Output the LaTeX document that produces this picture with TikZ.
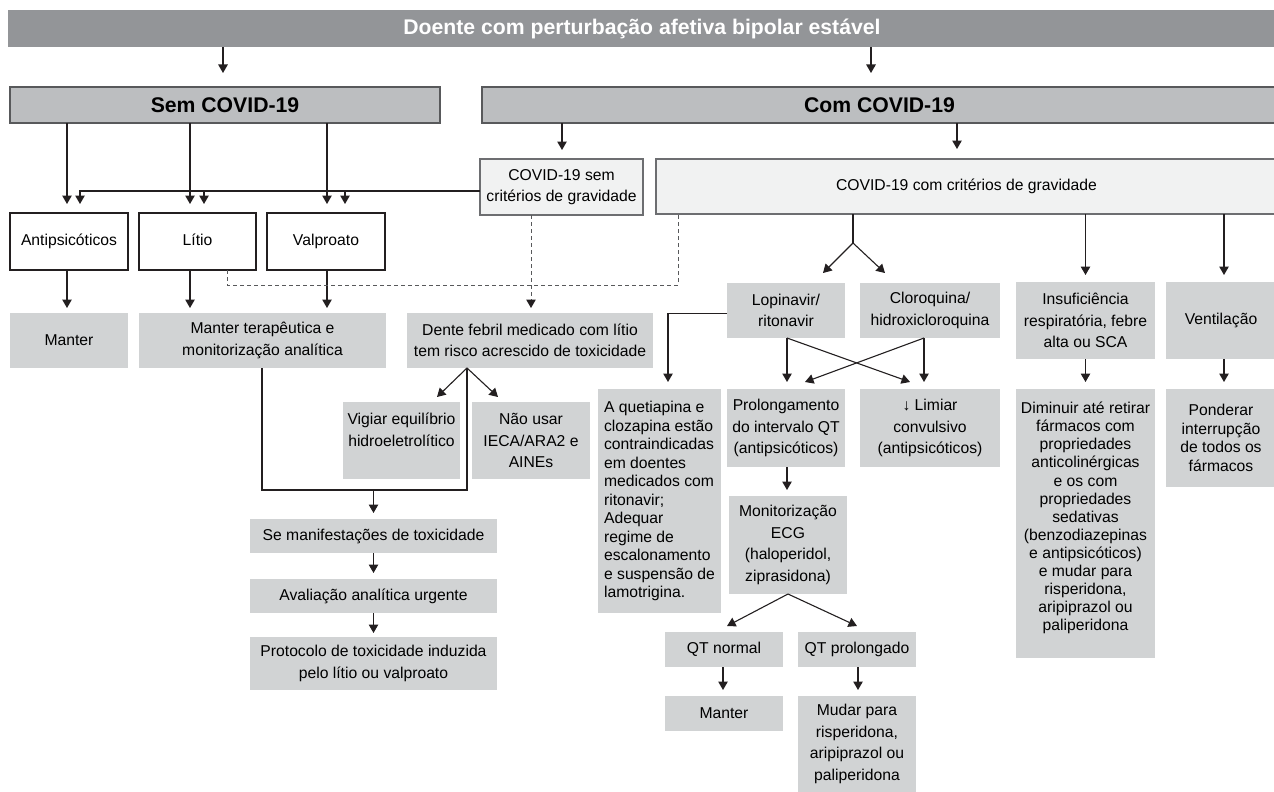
\documentclass[tikz,border=0pt]{standalone}
\usepackage{fontspec}
\setmainfont{Liberation Sans}
\usetikzlibrary{arrows.meta,calc}
\definecolor{topfill}{HTML}{939598}
\definecolor{hdrfill}{HTML}{BCBEC0}
\definecolor{hdrdraw}{HTML}{58595B}
\definecolor{critfill}{HTML}{F1F2F2}
\definecolor{critdraw}{HTML}{6D6E71}
\definecolor{greyfill}{HTML}{D1D3D4}
\definecolor{linec}{HTML}{231F20}
\definecolor{dashc}{HTML}{58595B}
\newcommand{\mybx}[7]{%
  \pgfmathsetmacro\bw{#4-#3}\pgfmathsetmacro\bh{#6-#5}%
  \pgfmathsetmacro\bcx{(#3+#4)/2}\pgfmathsetmacro\bcy{(#5+#6)/2}%
  \node[#1,minimum width=\bw pt,minimum height=\bh pt] (#2) at (\bcx,\bcy) {#7};}
\begin{document}
\begin{tikzpicture}[x=1pt,y=-1pt,
  base/.style={inner sep=0pt,outer sep=0pt,align=center,text=black,
    font=\fontsize{15.7}{21.5}\selectfont},
  grey/.style={base,fill=greyfill},
  white/.style={base,fill=white,draw=linec,line width=1.1pt,text height=11.3pt,text depth=3.3pt},
  crit/.style={base,fill=critfill,draw=critdraw,line width=1.1pt},
  hdr/.style={base,fill=hdrfill,draw=hdrdraw,line width=1.1pt,
    font=\fontsize{21.2}{25}\selectfont\bfseries},
  topbar/.style={base,fill=topfill,text=white,
    font=\fontsize{21.2}{25}\selectfont\bfseries},
  arr/.style={draw=linec,line width=1.1pt,-{Triangle[width=9.5pt,length=8.5pt,color=linec]},shorten >=6pt},
  ln/.style={draw=linec,line width=1.1pt},
  dsh/.style={draw=dashc,line width=1pt,dash pattern=on 4pt off 3pt},
]
\useasboundingbox[fill=white] (0,0) rectangle (1274,792);

% boxes
\mybx{topbar}{top}{8}{1276}{10}{47}{Doente com perturbação afetiva bipolar estável}
\mybx{hdr}{sem}{10}{440}{87}{123}{Sem COVID-19}
\mybx{hdr}{com}{482}{1277}{87}{123}{Com COVID-19}
\mybx{crit}{semcrit}{480}{643}{159}{215}{COVID-19 sem\\critérios de gravidade}
\mybx{crit}{comcrit}{656}{1277}{159}{214}{COVID-19 com critérios de gravidade}
\mybx{white}{antip}{10}{128}{213}{270}{Antipsicóticos}
\mybx{white}{litio}{139}{256}{213}{270}{Lítio}
\mybx{white}{valp}{267}{385}{213}{270}{Valproato}
\mybx{grey}{manterA}{10}{128}{313}{368}{Manter}
\mybx{grey}{mterap}{139}{386}{313}{368}{Manter terapêutica e\\monitorização analítica}
\mybx{grey}{dente}{407}{653}{313}{368}{Dente febril medicado com lítio\\tem risco acrescido de toxicidade}
\mybx{grey}{vigiar}{343}{460}{402}{479}{Vigiar equilíbrio\\hidroeletrolítico\\\mbox{}}
\mybx{grey}{naousar}{472}{590}{402}{479}{Não usar\\IECA/ARA2 e\\AINEs}
\mybx{grey}{semanif}{250}{497}{519}{553}{Se manifestações de toxicidade}
\mybx{grey}{aval}{250}{497}{579}{613}{Avaliação analítica urgente}
\mybx{grey}{protoc}{250}{497}{637}{690}{Protocolo de toxicidade induzida\\pelo lítio ou valproato}
\mybx{grey}{lopi}{727}{845}{283}{338}{Lopinavir/\\ritonavir}
\mybx{grey}{cloro}{860}{1000}{283}{338}{Cloroquina/\\hidroxicloroquina}
\mybx{grey}{insuf}{1016}{1155}{282}{359}{Insuficiência\\respiratória, febre\\alta ou SCA}
\mybx{grey}{venti}{1166}{1276}{282}{359}{Ventilação}
\mybx{grey,align=left,font=\fontsize{15.7}{18.5}\selectfont}{quet}{598}{721}{389}{613}{A quetiapina e\\clozapina estão\\contraindicadas\\em doentes\\medicados com\\ritonavir;\\Adequar\\regime de\\escalonamento\\e suspensão de\\lamotrigina.}
\mybx{grey}{prolong}{727}{845}{389}{467}{Prolongamento\\do intervalo QT\\(antipsicóticos)}
\mybx{grey}{limiar}{860}{1000}{389}{467}{↓ Limiar\\convulsivo\\(antipsicóticos)}
\mybx{grey,font=\fontsize{15.7}{18.1}\selectfont}{dimin}{1016}{1155}{389}{658}{Diminuir até retirar\\fármacos com\\propriedades\\anticolinérgicas\\e os com\\propriedades\\sedativas\\(benzodiazepinas\\e antipsicóticos)\\e mudar para\\risperidona,\\aripiprazol ou\\paliperidona\\[-4pt]\mbox{}}
\mybx{grey,font=\fontsize{15.7}{18.5}\selectfont}{ponder}{1166}{1276}{389}{487}{Ponderar\\interrupção\\de todos os\\fármacos}
\mybx{grey}{monit}{729}{847}{496}{594}{Monitorização\\ECG\\(haloperidol,\\ziprasidona)}
\mybx{grey}{qtn}{665}{783}{632}{667}{QT normal}
\mybx{grey}{qtp}{798}{916}{632}{667}{QT prolongado}
\mybx{grey}{manterB}{665}{783}{696}{731}{Manter}
\mybx{grey}{mudar}{798}{916}{696}{792}{Mudar para\\risperidona,\\aripiprazol ou\\paliperidona}

% connectors
\draw[arr,shorten >=14pt] (top.south -| 223,0) -- (sem.north -| 223,0);
\draw[arr,shorten >=14pt] (top.south -| 871,0) -- (com.north -| 871,0);
\draw[arr,shorten >=9pt] (sem.south -| 67,0) -- (antip.north -| 67,0);
\draw[arr,shorten >=9pt] (sem.south -| 190,0) -- (litio.north -| 190,0);
\draw[arr,shorten >=9pt] (sem.south -| 327,0) -- (valp.north -| 327,0);
\coordinate (hl) at ([yshift=-4pt]semcrit.west);
\draw[arr,shorten >=9pt] (hl) -| (antip.north -| 80,0);
\draw[arr,shorten >=9pt] (hl -| 204,0) -- (litio.north -| 204,0);
\draw[arr,shorten >=9pt] (hl -| 345,0) -- (valp.north -| 345,0);
\draw[arr,shorten >=9pt] (com.south -| 562,0) -- (semcrit.north -| 562,0);
\draw[arr,shorten >=10pt] (com.south -| 957,0) -- (comcrit.north -| 957,0);
\draw[arr,shorten >=5pt] (antip.south -| 67,0) -- (manterA.north -| 67,0);
\draw[arr,shorten >=5pt] (litio.south -| 190,0) -- (mterap.north -| 190,0);
\draw[arr,shorten >=5pt] (valp.south -| 327,0) -- (mterap.north -| 327,0);
% dashed
\draw[dsh] (litio.south -| 227,0) |- (678,285) -- (comcrit.south -| 678,0);
\draw[arr,dsh,shorten >=5pt] (semcrit.south -| 531,0) -- (dente.north -| 531,0);
% dente fork and bracket
\coordinate (dA) at (dente.south -| 467,0);
\draw[arr,shorten >=0pt] (dA) -- ($(vigiar.north east)+(-23,-5)$);
\draw[arr,shorten >=0pt] (dA) -- ($(naousar.north west)+(26,-5)$);
\draw[ln] (mterap.south -| 262,0) |- (dA |- 0,490) -- (dA);
\draw[arr] (semanif.north |- 0,490) -- (semanif.north);
\draw[arr] (semanif.south) -- (aval.north);
\draw[arr,shorten >=4pt] (aval.south) -- (protoc.north);
% com criterios fork
\coordinate (cA) at (853,243);
\draw[ln] (comcrit.south -| cA) -- (cA);
\draw[arr,shorten >=0pt] (cA) -- ($(lopi.north east)+(-22,-10)$);
\draw[arr,shorten >=0pt] (cA) -- ($(cloro.north west)+(25,-10)$);
\draw[arr,shorten >=7pt] (comcrit.south -| insuf.north) -- (insuf.north);
\draw[arr,shorten >=7pt] (comcrit.south -| 1224,0) -- (venti.north -| 1224,0);
% lopinavir / cloroquina
\draw[arr,shorten >=7pt] ([yshift=-3pt]lopi.west) -| (quet.north -| 668,0);
\draw[arr,shorten >=7pt] (lopi.south -| 787,0) -- (prolong.north -| 787,0);
\draw[arr,shorten >=0pt] (lopi.south -| 787,0) -- ($(limiar.north west)+(50,-7)$);
\draw[arr,shorten >=7pt] (cloro.south -| 924,0) -- (limiar.north -| 924,0);
\draw[arr,shorten >=0pt] (cloro.south -| 924,0) -- ($(prolong.north west)+(78,-7)$);
\draw[arr,shorten >=7pt] (insuf.south) -- (dimin.north);
\draw[arr,shorten >=7pt] (venti.south -| 1224,0) -- (ponder.north -| 1224,0);
\draw[arr] (prolong.south -| 787,0) -- (monit.north -| 787,0);
\draw[arr,shorten >=0pt] (monit.south) -- ($(qtn.north)+(3,-6)$);
\draw[arr,shorten >=0pt] (monit.south) -- ($(qtp.north)+(0,-6)$);
\draw[arr] (qtn.south -| 723,0) -- (manterB.north -| 723,0);
\draw[arr] (qtp.south -| 858,0) -- (mudar.north -| 858,0);
\end{tikzpicture}
\end{document}
